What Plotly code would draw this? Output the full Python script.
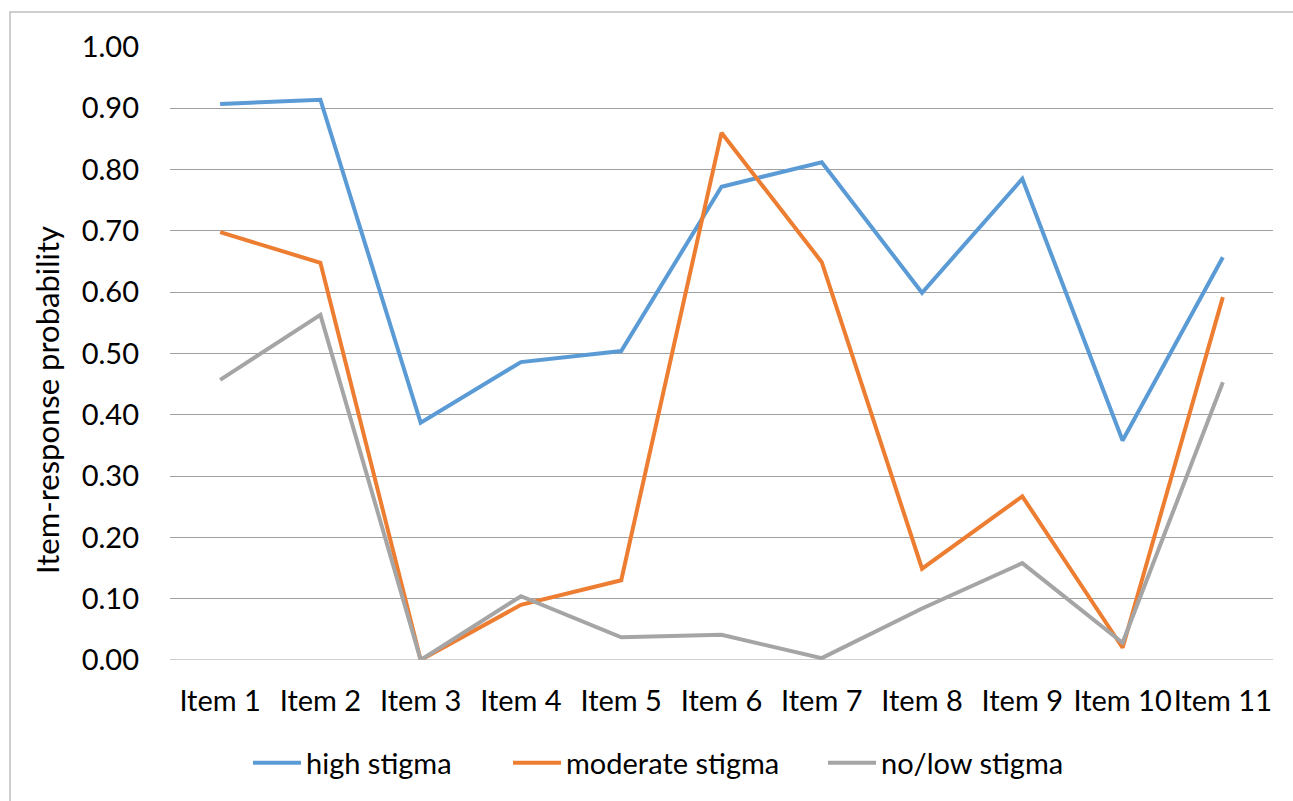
import plotly.graph_objects as go

# Item-response probabilities per latent class
items = ["Item 1", "Item 2", "Item 3", "Item 4", "Item 5", "Item 6",
         "Item 7", "Item 8", "Item 9", "Item 10", "Item 11"]
high_stigma = [0.907, 0.914, 0.387, 0.486, 0.504, 0.772, 0.812, 0.599, 0.785, 0.358, 0.657]
moderate_stigma = [0.698, 0.648, 0.000, 0.090, 0.130, 0.860, 0.649, 0.149, 0.267, 0.020, 0.592]
low_stigma = [0.457, 0.563, 0.000, 0.104, 0.037, 0.041, 0.003, 0.084, 0.158, 0.028, 0.453]

series = [
    ("high stigma", high_stigma, "#5B9BD5"),
    ("moderate stigma", moderate_stigma, "#ED7D31"),
    ("no/low stigma", low_stigma, "#A5A5A5"),
]

FONT = "Lato"
FS = 29
W, H = 1293, 801
L, R, T, B = 170, 20, 47, 141
pw, ph = W - L - R, H - T - B


def px_x(p):
    return (p - L) / pw


def px_y(p):
    return (H - B - p) / ph


# left edge (in pixels) of each legend entry
legend_left = [253, 513, 828]
legend_ids = ["legend", "legend2", "legend3"]

fig = go.Figure()
for (name, vals, color), lid in zip(series, legend_ids):
    fig.add_trace(go.Scatter(
        x=items, y=vals, name=name, mode="lines",
        line=dict(color=color, width=4),
        legend=lid,
    ))

legend_style = {}
for lid, left in zip(legend_ids, legend_left):
    legend_style[lid] = dict(
        orientation="h", x=px_x(left - 5), xanchor="left",
        y=px_y(763), yanchor="middle",
        font=dict(family=FONT, size=FS),
        itemwidth=48, bgcolor="rgba(0,0,0,0)", borderwidth=0,
    )

fig.update_layout(
    width=W, height=H,
    margin=dict(l=L, r=R, t=T, b=B, pad=0),
    paper_bgcolor="white", plot_bgcolor="white",
    font=dict(family=FONT, size=FS, color="#000000"),
    showlegend=True,
    xaxis=dict(
        type="category", range=[-0.5, 10.5],
        showgrid=False, zeroline=False, showline=False,
        ticks="", ticklabelstandoff=21,
        tickfont=dict(family=FONT, size=FS),
    ),
    yaxis=dict(
        range=[0, 1.0], dtick=0.1, tick0=0, tickformat=".2f",
        showgrid=True, gridcolor="#A0A0A0", gridwidth=1.2,
        zeroline=False, showline=False,
        ticks="", ticklabelstandoff=30,
        tickfont=dict(family=FONT, size=FS),
    ),
    shapes=[
        # baseline at zero
        dict(type="line", xref="paper", yref="y", x0=0, x1=1, y0=0, y1=0,
             line=dict(color="#A0A0A0", width=1.2), layer="below"),
        # chart frame
        dict(type="rect", xref="paper", yref="paper",
             x0=px_x(10), x1=px_x(1310), y0=px_y(12), y1=px_y(820),
             line=dict(color="#BFBFBF", width=1.5), layer="below"),
    ],
    annotations=[
        dict(text="Item-response probability", xref="paper", yref="paper",
             x=px_x(47), y=px_y(400), xanchor="center", yanchor="middle",
             textangle=-90, showarrow=False,
             font=dict(family=FONT, size=31)),
    ],
    **legend_style,
)

fig.write_html("out.html")
